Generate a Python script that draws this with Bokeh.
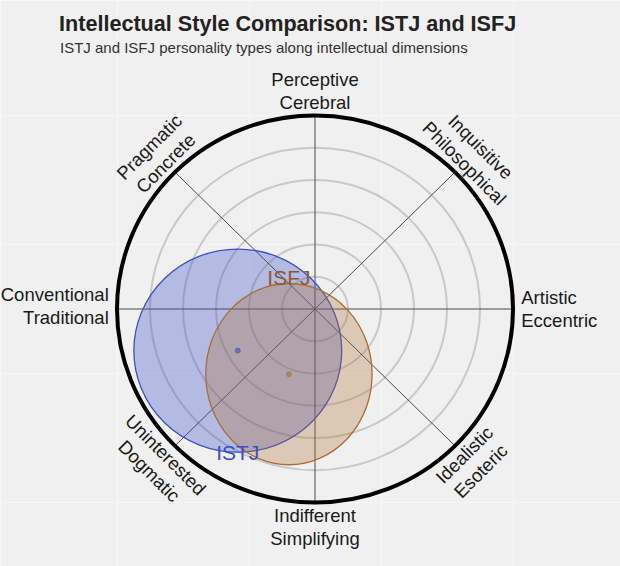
import math
from bokeh.plotting import figure
from bokeh.models import Range1d, Label, FixedTicker
from bokeh.core.properties import value
from bokeh.embed import file_html
from bokeh.resources import INLINE

# ---------------- data ----------------
axis_labels = ["Perceptive\nCerebral", "Inquisitive\nPhilosophical", "Artistic\nEccentric",
               "Idealistic\nEsoteric", "Indifferent\nSimplifying", "Uninterested\nDogmatic",
               "Conventional\nTraditional", "Pragmatic\nConcrete"]
axis_angles_deg = [90, 45, 0, -45, -90, -135, 180, 135]
ring_levels = [1, 2, 3, 4, 5]
outer_level = 6

types = ["ISTJ", "ISFJ"]
type_x = [-2.34, -0.79]
type_y = [-1.29, -2.02]
type_rx = [3.15, 2.52]
type_ry = [3.15, 2.81]
type_colors = ["#3a50c8", "#ad6d30"]
type_text_colors = ["#3a50c8", "#8c5a28"]

title_text = "Intellectual Style Comparison: ISTJ and ISFJ"
subtitle_text = "ISTJ and ISFJ personality types along intellectual dimensions"

# ---------------- layout ----------------
W, H = 620, 566
BG = "#f0f0f0"
cx_px, cy_px = 314.5, 308.5      # canvas position of centre
sx, sy = 33.0, 32.25              # px per unit
x0 = -cx_px / sx
y1 = cy_px / sy

p = figure(width=W, height=H, output_backend="svg", toolbar_location=None,
           x_range=Range1d(x0, x0 + W / sx), y_range=Range1d(y1 - H / sy, y1),
           min_border=0, min_border_left=0, min_border_right=0,
           min_border_top=0, min_border_bottom=0)
p.axis.visible = False
grid_ticks = [-outer_level, -outer_level / 3, outer_level / 3, outer_level]
p.xgrid.ticker = FixedTicker(ticks=grid_ticks)
p.ygrid.ticker = FixedTicker(ticks=grid_ticks)
p.grid.grid_line_color = "#f7f7f7"
p.grid.grid_line_width = 1
p.outline_line_color = None
p.background_fill_color = BG
p.border_fill_color = BG

# rings
p.ellipse(x=[0] * len(ring_levels), y=[0] * len(ring_levels),
          width=[2 * r for r in ring_levels], height=[2 * r for r in ring_levels],
          fill_color=None, line_color="#c8c8c8", line_width=2)

# spokes
ang = [math.radians(a) for a in axis_angles_deg]
p.segment(x0=[0] * 8, y0=[0] * 8,
          x1=[outer_level * math.cos(a) for a in ang],
          y1=[outer_level * math.sin(a) for a in ang],
          line_color="#4a4a4a", line_width=1)

# outer circle
p.ellipse(x=[0], y=[0], width=[2 * outer_level], height=[2 * outer_level],
          fill_color=None, line_color="black", line_width=4)

# type ellipses
alphas = [0.33, 0.3]
for i, t in enumerate(types):
    p.ellipse(x=[type_x[i]], y=[type_y[i]], width=[2 * type_rx[i]], height=[2 * type_ry[i]],
              fill_color=type_colors[i], fill_alpha=alphas[i],
              line_color=type_colors[i], line_width=1.3)
for i, t in enumerate(types):
    p.scatter(x=[type_x[i]], y=[type_y[i]], size=5, color=type_colors[i], alpha=0.6)

# type labels (ISTJ centred on the bottom of its ellipse, ISFJ just above its ellipse)
p.text(x=[type_x[0]], y=[type_y[0] - type_ry[0]], text=[types[0]],
       text_color=type_text_colors[0], text_font=value("Liberation Sans"),
       text_font_size="21px", text_align="center", text_baseline="middle")
p.text(x=[type_x[1]], y=[type_y[1] + type_ry[1]], y_offset=-6, text=[types[1]],
       text_color=type_text_colors[1], text_font=value("Liberation Sans"),
       text_font_size="21px", text_align="center", text_baseline="middle")

# axis labels
lab_r = 6.75
side_r = 6.25
for lab, a_deg, a in zip(axis_labels, axis_angles_deg, ang):
    if a_deg == 0:
        x, y, align, rot = side_r, 0, "left", 0
    elif a_deg == 180:
        x, y, align, rot = -side_r, 0.1, "right", 0
    else:
        x, y, align = lab_r * math.cos(a), lab_r * math.sin(a), "center"
        if a_deg in (90, -90):
            rot = 0
        elif a_deg in (45, -135):
            rot = -math.pi / 4
        else:
            rot = math.pi / 4
    p.text(x=[x], y=[y], text=[lab], angle=rot, text_color="#1a1a1a",
           text_font=value("Liberation Sans"), text_font_size="18.5px",
           text_align=align, text_baseline="middle", text_line_height=1.1)

# titles
p.add_layout(Label(x=58.5, y=H - 23, x_units="screen", y_units="screen", text=title_text,
                   text_font="Liberation Sans", text_font_size="21.6px", text_font_style="bold",
                   text_color="#222222", text_baseline="middle"))
p.add_layout(Label(x=59.5, y=H - 46.5, x_units="screen", y_units="screen", text=subtitle_text,
                   text_font="Liberation Sans", text_font_size="15px",
                   text_color="#333333", text_baseline="middle"))

html = file_html(p, INLINE)
html = html.replace("<body>", '<body style="background-color:#f0f0f0;">', 1)
open("out.html", "w").write(html)
